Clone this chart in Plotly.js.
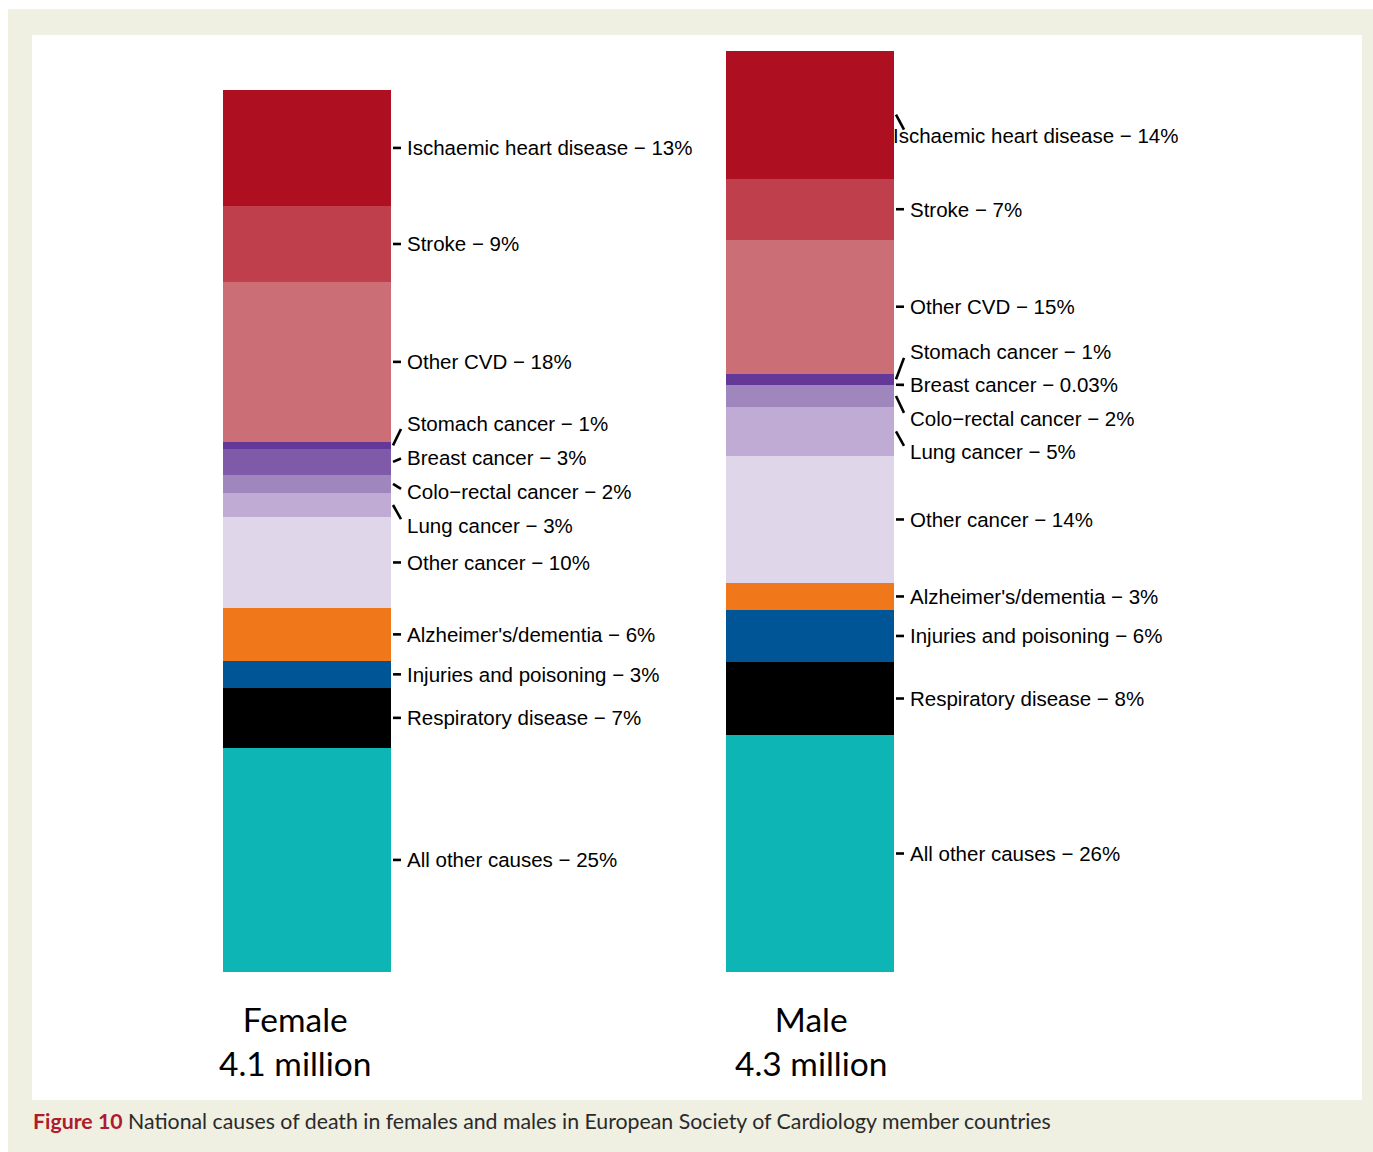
<!DOCTYPE html>
<html>
<head>
<meta charset="utf-8">
<script src="https://cdn.plot.ly/plotly-3.0.1.min.js"></script>
<style>html,body{margin:0;padding:0;background:#fff;}#chart{width:1373px;height:1152px;}</style>
</head>
<body>
<div id="chart"></div>
<script>
// ---------------- DATA ----------------
const groups = ["Female", "Male"];
const groupLabels = ["Female<br>4.1 million", "Male<br>4.3 million"];
const totalsMillion = [4.12, 4.30];

// causes from bottom of stack to top
const causes = [
  "All other causes", "Respiratory disease", "Injuries and poisoning",
  "Alzheimer's/dementia", "Other cancer", "Lung cancer", "Colo\u2212rectal cancer",
  "Breast cancer", "Stomach cancer", "Other CVD", "Stroke", "Ischaemic heart disease"
];
// share of deaths (%)
const femaleShare = [25.4, 6.8, 3.06, 6.0, 10.3, 2.72, 2.07, 2.91, 0.83, 18.1, 8.62, 13.15];
const maleShare   = [25.73, 7.93, 5.65, 2.93, 13.79, 5.32, 2.39, 0.03, 1.19, 14.55, 6.62, 13.9];
// printed percentages in the labels
const femaleLabelPct = ["25%", "7%", "3%", "6%", "10%", "3%", "2%", "3%", "1%", "18%", "9%", "13%"];
const maleLabelPct   = ["26%", "8%", "6%", "3%", "14%", "5%", "2%", "0.03%", "1%", "15%", "7%", "14%"];

const captionBold = "Figure 10";
const captionText = "National causes of death in females and males in European Society of Cardiology member countries";

// ---------------- STYLE ----------------
const colors = ["#0db6b4", "#000000", "#005597", "#f0781a", "#dfd6e9", "#bfabd3",
                "#9f87be", "#7f5aa9", "#633899", "#cc6e75", "#bf3f4d", "#ae1021"];
const W = 1373, H = 1152;
const baselinePx = 972;          // pixel row of value 0
const pxPerMillion = 921 / 4.30; // vertical scale
const xLeftPx = 307, xStepPx = 503; // pixel of x=0 and pixels per unit
const barWidth = 168 / 503;
const labelGap = 34;             // min vertical spacing between labels (px)
const labelNudge = {
  "Male|Ischaemic heart disease": { dx: -17, dy: 21 },
  "Male|Stomach cancer": { dx: 0, dy: 5 },
  "Male|Breast cancer": { dx: 0, dy: 4 },
  "Male|Colo\u2212rectal cancer": { dx: 0, dy: 4 },
  "Male|Lung cancer": { dx: 0, dy: 3 }
};
const labelFont = { family: "Liberation Sans, Arial, sans-serif", size: 20.5, color: "#000" };

const yMax = baselinePx / pxPerMillion;
const xRange = [-xLeftPx / xStepPx, (W - xLeftPx) / xStepPx];
const pxToY = px => (baselinePx - px) / pxPerMillion;
const yToPx = v => baselinePx - v * pxPerMillion;

const shares = [femaleShare, maleShare];
const pcts = [femaleLabelPct, maleLabelPct];

// ---------------- TRACES ----------------
const traces = causes.map((c, i) => ({
  type: "bar",
  name: c,
  x: [0, 1],
  y: shares.map((s, g) => s[i] / 100 * totalsMillion[g]),
  width: barWidth,
  marker: { color: colors[i], line: { width: 0 } },
  hoverinfo: "name+y"
}));

// ---------------- LABELS (simple repel) ----------------
const annotations = [];
const shapes = [];

// background frame
shapes.push({ type: "rect", xref: "paper", yref: "paper", layer: "below",
  x0: 8 / W, x1: 1, y0: 0, y1: 1 - 9 / H, fillcolor: "#efefe2", line: { width: 0 } });
shapes.push({ type: "rect", xref: "paper", yref: "paper", layer: "below",
  x0: 32 / W, x1: 1362 / W, y0: 1 - 1100 / H, y1: 1 - 35 / H, fillcolor: "#ffffff", line: { width: 0 } });

groups.forEach((g, gi) => {
  let cum = 0;
  const items = [];
  causes.forEach((c, i) => {
    const v = shares[gi][i] / 100 * totalsMillion[gi];
    const mid = cum + v / 2;
    cum += v;
    items.push({ i, c: yToPx(mid) });
  });
  items.sort((a, b) => a.c - b.c);
  let clusters = items.map(it => ({ members: [it] }));
  const place = cl => {
    const m = cl.members.reduce((s, it) => s + it.c, 0) / cl.members.length;
    const n = cl.members.length;
    cl.members.forEach((it, k) => { it.L = m + (k - (n - 1) / 2) * labelGap; });
  };
  clusters.forEach(place);
  let merged = true;
  while (merged) {
    merged = false;
    for (let k = 0; k < clusters.length - 1; k++) {
      const a = clusters[k], b = clusters[k + 1];
      const aLast = a.members[a.members.length - 1].L;
      const bFirst = b.members[0].L;
      if (bFirst - aLast < labelGap) {
        const nc = { members: a.members.concat(b.members) };
        place(nc);
        clusters.splice(k, 2, nc);
        merged = true;
        break;
      }
    }
  }
  const edgeX = gi + barWidth / 2;
  items.forEach(it => {
    const key = g + "|" + causes[it.i];
    const nud = labelNudge[key] || { dx: 0, dy: 0 };
    const L = it.L + nud.dy;
    const d = L - it.c;
    const endOff = Math.max(-6, Math.min(6, 0.3 * d));
    shapes.push({ type: "line", xref: "x", yref: "y", xsizemode: "pixel", xanchor: edgeX,
      x0: 2, x1: 10, y0: pxToY(it.c), y1: pxToY(L - endOff),
      line: { color: "#000", width: 2.6 } });
    annotations.push({ xref: "x", yref: "y", x: edgeX, y: pxToY(L), xanchor: "left", yanchor: "middle",
      xshift: 14 + nud.dx, showarrow: false,
      text: causes[it.i] + " \u2212 " + pcts[gi][it.i], font: labelFont });
  });
  annotations.push({ xref: "x", yref: "paper", x: gi, y: 1 - 1041 / H, xanchor: "center", yanchor: "middle",
    xshift: gi === 0 ? -12 : 1, showarrow: false, text: groupLabels[gi],
    font: { family: "Lato, Open Sans, sans-serif", size: 33.5, color: "#000" } });
});

// caption
annotations.push({ xref: "paper", yref: "paper", x: 31 / W, y: 1 - 1121 / H, xanchor: "left", yanchor: "middle",
  showarrow: false,
  text: "<b><span style='color:#b01a2e'>" + captionBold + "</span></b> " + captionText,
  font: { family: "Lato, Open Sans, sans-serif", size: 21.3, color: "#2a2a2a" } });

const layout = {
  width: W, height: H,
  margin: { l: 0, r: 0, t: 0, b: 0, pad: 0 },
  paper_bgcolor: "#ffffff",
  plot_bgcolor: "rgba(0,0,0,0)",
  barmode: "stack",
  showlegend: false,
  xaxis: { domain: [0, 1], range: xRange, showgrid: false, zeroline: false, showticklabels: false,
           showline: false, ticks: "", fixedrange: true },
  yaxis: { domain: [1 - baselinePx / H, 1], range: [0, yMax], showgrid: false, zeroline: false,
           showticklabels: false, showline: false, ticks: "", fixedrange: true },
  shapes, annotations
};

Plotly.newPlot("chart", traces, layout, { displayModeBar: false, staticPlot: true });
</script>
</body>
</html>
